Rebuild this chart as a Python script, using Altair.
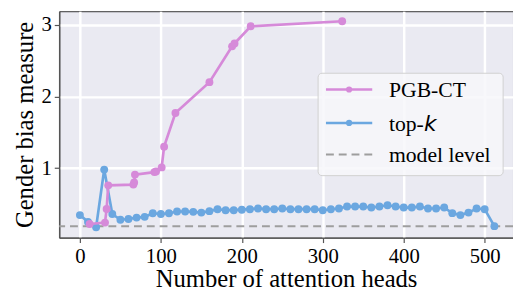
import altair as alt
import pandas as pd

# ---- data ----
pgb_x = [12, 31, 33, 35, 66, 67, 68, 92, 94, 101, 104, 118, 160, 188, 191, 211, 324]
pgb_y = [0.22, 0.24, 0.43, 0.76, 0.77, 0.80, 0.91, 0.945, 0.953, 1.01, 1.30, 1.77, 2.20, 2.70, 2.74, 2.98, 3.05]

topk_x = [0, 10, 20, 30, 40, 50, 60, 70, 80, 90, 100, 110, 120, 130, 140, 150, 160,
          170, 180, 190, 200, 210, 220, 230, 240, 250, 260, 270, 280, 290, 300, 310,
          320, 330, 340, 350, 360, 370, 380, 390, 400, 410, 420, 430, 440, 450, 460,
          470, 480, 490, 500, 512]
topk_y = [0.345, 0.25, 0.175, 0.98, 0.36, 0.28, 0.29, 0.31, 0.32, 0.37, 0.36, 0.37,
          0.395, 0.395, 0.39, 0.38, 0.40, 0.427, 0.413, 0.413, 0.42, 0.427, 0.437,
          0.427, 0.427, 0.437, 0.427, 0.427, 0.427, 0.427, 0.413, 0.427, 0.437, 0.464,
          0.464, 0.464, 0.45, 0.464, 0.482, 0.464, 0.45, 0.45, 0.464, 0.437, 0.437,
          0.45, 0.372, 0.345, 0.38, 0.437, 0.427, 0.19]

model_level = [0.19]
x_ticks = [0, 100, 200, 300, 400, 500]
y_ticks = [1, 2, 3]
legend_labels = ["PGB-CT", "top-", "k", "model level"]

PINK = "#D68AD9"
BLUE = "#6BA7E0"
GRAY = "#9E9E9E"
SERIF = "Liberation Serif"

pgb = pd.DataFrame({"x": pgb_x, "y": pgb_y})
topk = pd.DataFrame({"x": topk_x, "y": topk_y})
ml = pd.DataFrame({"y": model_level})

xs = alt.Scale(domain=[-25.6, 535], nice=False, zero=False)
ys = alt.Scale(domain=[0.03, 3.19], nice=False, zero=False)

axis_style = dict(labelFont=SERIF, labelFontSize=21, titleFont=SERIF, titleFontSize=25,
                  titleFontWeight="normal", labelColor="black", titleColor="black")
xax = alt.Axis(values=x_ticks, title="Number of attention heads", format="d",
               titlePadding=1, **axis_style)
yax = alt.Axis(values=y_ticks, title="Gender bias measure", format="d",
               titlePadding=4, **axis_style)

X = alt.X("x:Q", scale=xs, axis=xax)
Y = alt.Y("y:Q", scale=ys, axis=yax)

model_rule = alt.Chart(ml).mark_rule(color=GRAY, strokeWidth=2, strokeDash=[8, 5]).encode(
    y=alt.Y("y:Q", scale=ys, axis=yax)
)

topk_line = alt.Chart(topk).mark_line(color=BLUE, strokeWidth=2.7).encode(x=X, y=Y)
topk_pts = alt.Chart(topk).mark_circle(color=BLUE, size=64, opacity=1).encode(x=X, y=Y)
pgb_line = alt.Chart(pgb).mark_line(color=PINK, strokeWidth=2.7).encode(x=X, y=Y)
pgb_pts = alt.Chart(pgb).mark_circle(color=PINK, size=64, opacity=1).encode(x=X, y=Y)

one = alt.Data(values=[{"a": 1}])

legend_box = alt.Chart(one).mark_rect(
    fill="#F7F7FA", fillOpacity=0.85, stroke="#D0D0D0", strokeWidth=1, cornerRadius=4
).encode(x=alt.value(263), x2=alt.value(451), y=alt.value(63), y2=alt.value(167))

rows = [79.5, 113.5, 145.5]

def leg_line(yv, color, dash=None):
    kw = dict(color=color, strokeWidth=2.5)
    if dash:
        kw["strokeDash"] = dash
        kw["strokeWidth"] = 2
    return alt.Chart(one).mark_rule(**kw).encode(
        x=alt.value(271), x2=alt.value(318), y=alt.value(yv)
    )

def leg_pt(yv, color):
    return alt.Chart(one).mark_circle(color=color, size=40, opacity=1).encode(
        x=alt.value(294.5), y=alt.value(yv)
    )

def leg_text(xv, yv, txt, font=SERIF, style="normal"):
    return alt.Chart(one).mark_text(
        align="left", baseline="middle", font=font, fontSize=22, fontStyle=style, color="black"
    ).encode(x=alt.value(xv), y=alt.value(yv), text=alt.value(txt))

legend = [
    legend_box,
    leg_line(rows[0], PINK), leg_pt(rows[0], PINK), leg_text(335, rows[0] + 1, legend_labels[0]),
    leg_line(rows[1], BLUE), leg_pt(rows[1], BLUE), leg_text(335, rows[1] + 1, legend_labels[1]),
    leg_text(370.5, rows[1] + 1, legend_labels[2], font="DejaVu Sans", style="italic"),
    leg_line(rows[2], GRAY, dash=[8, 5]), leg_text(335, rows[2] + 1, legend_labels[3]),
]

chart = alt.layer(
    model_rule, topk_line, topk_pts, pgb_line, pgb_pts, *legend
).properties(
    width=461, height=230,
    autosize=alt.AutoSizeParams(type="none"),
    padding={"left": 52, "top": 1, "right": 0, "bottom": 57},
    background="white",
).configure(
    font=SERIF
).configure_view(
    fill="#EAEAF2", stroke="#333333", strokeWidth=1
).configure_axis(
    grid=True, gridColor="white", gridWidth=2.5,
    domainColor="#555555", domainWidth=1.5,
    tickColor="#555555", tickSize=5, tickWidth=1.2,
    labelFont=SERIF, labelFontSize=21, labelColor="black", labelPadding=3,
    titleFont=SERIF, titleFontSize=25, titleFontWeight="normal", titleColor="black",
)

chart.save("out.html", embed_options={"renderer": "svg", "actions": False})
